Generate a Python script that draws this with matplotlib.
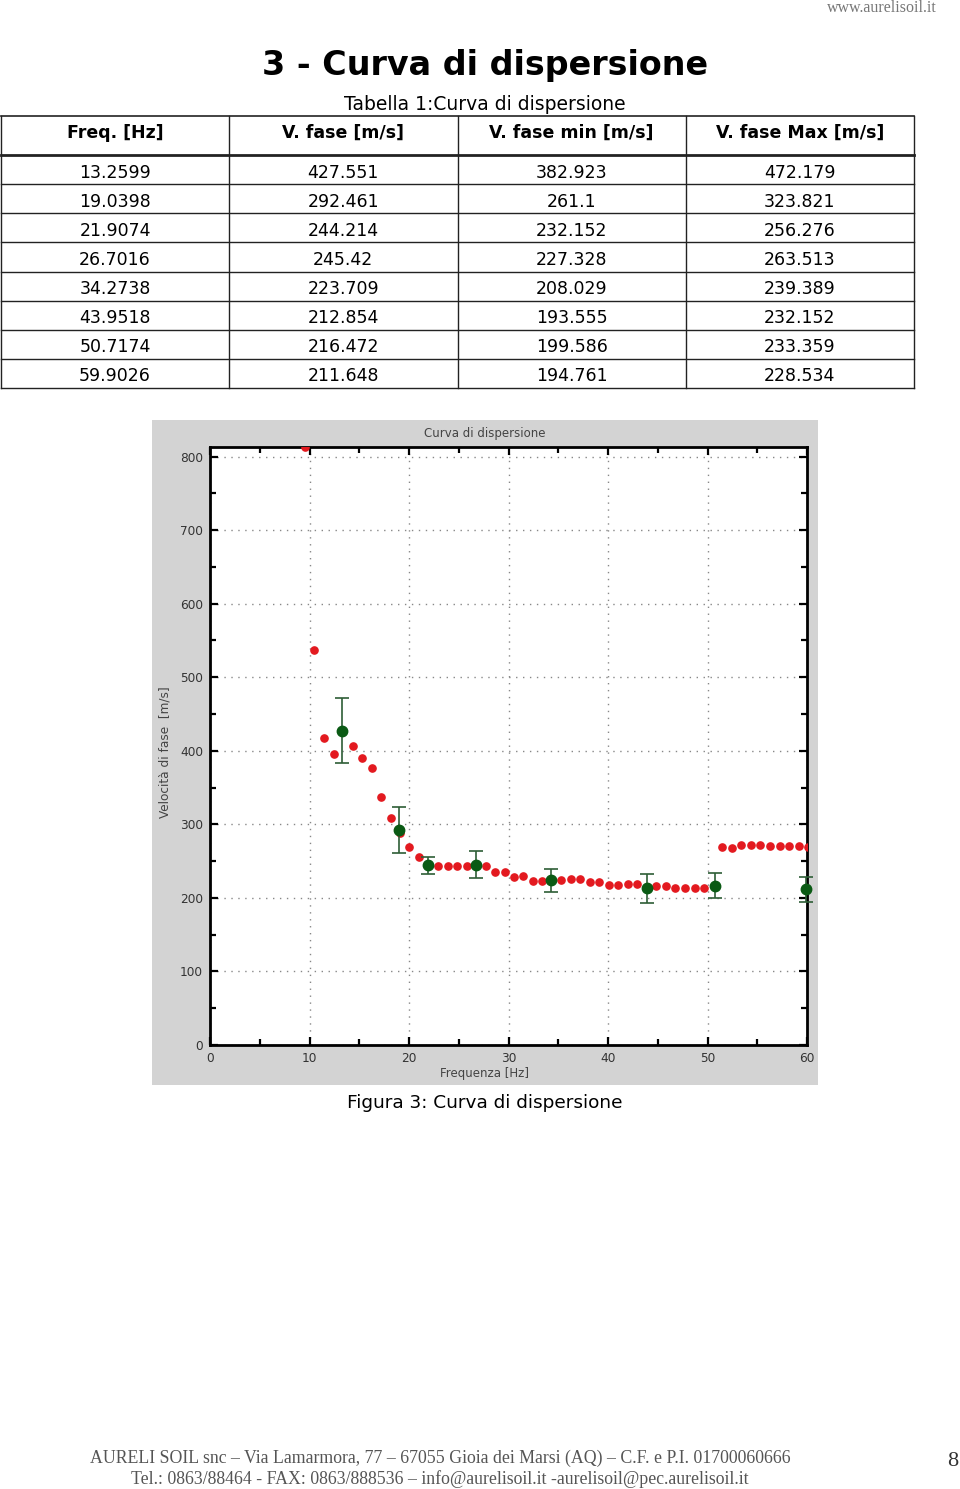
import numpy as np
import matplotlib
matplotlib.use('Agg')
import matplotlib.pyplot as plt
from matplotlib.patches import Rectangle
from matplotlib.ticker import MultipleLocator

# --- Data ---
freq = [13.2599, 19.0398, 21.9074, 26.7016, 34.2738, 43.9518, 50.7174, 59.9026]
v_fase = [427.551, 292.461, 244.214, 245.42, 223.709, 212.854, 216.472, 211.648]
v_min = [382.923, 261.1, 232.152, 227.328, 208.029, 193.555, 199.586, 194.761]
v_max = [472.179, 323.821, 256.276, 263.513, 239.389, 232.152, 233.359, 228.534]

freq_txt = ['13.2599', '19.0398', '21.9074', '26.7016', '34.2738', '43.9518', '50.7174', '59.9026']
v_fase_txt = ['427.551', '292.461', '244.214', '245.42', '223.709', '212.854', '216.472', '211.648']
v_min_txt = ['382.923', '261.1', '232.152', '227.328', '208.029', '193.555', '199.586', '194.761']
v_max_txt = ['472.179', '323.821', '256.276', '263.513', '239.389', '232.152', '233.359', '228.534']
headers = ['Freq. [Hz]', 'V. fase [m/s]', 'V. fase min [m/s]', 'V. fase Max [m/s]']

# picked curve (red dots)
curve_f = [9.55, 10.5, 11.46, 12.43, 14.34, 15.28, 16.25, 17.19, 18.16, 19.1,
           20.03, 21.02, 22.93, 23.9, 24.83, 25.8, 27.7, 28.64, 29.6, 30.55,
           31.5, 32.46, 33.4, 35.3, 36.3, 37.2, 38.2, 39.1, 40.1, 41.0,
           42.0, 42.9, 44.86, 45.8, 46.75, 47.7, 48.7, 49.6, 51.5, 52.46,
           53.4, 54.4, 55.3, 56.3, 57.3, 58.2, 59.2, 60.1]
curve_v = [813, 537, 417, 396, 406, 390, 377, 337, 309, 288,
           269, 255, 244, 244, 244, 244, 244, 235.5, 235.5, 228.7,
           229.6, 223, 223, 225, 225.5, 226, 221, 221.5, 217, 218,
           218.3, 219, 216, 216, 213, 213.3, 213.8, 214, 268.6, 268,
           272, 272, 271.7, 271, 270.8, 270.4, 270, 269]

W, H = 960, 1489
fig = plt.figure(figsize=(W / 100, H / 100), dpi=100)
fig.patch.set_facecolor('white')

def fx(px):
    return px / W

def fy(py):
    return 1 - py / H

page_font = 'DejaVu Sans'
serif = 'Liberation Serif'

# --- Page texts ---
fig.text(fx(937), fy(8), 'www.aurelisoil.it', ha='right', va='center',
         family=serif, fontsize=11.5, color='#777777')
fig.text(fx(485), fy(66), '3 - Curva di dispersione', ha='center', va='center',
         family=page_font, fontweight='bold', fontsize=24, color='black')
fig.text(fx(485), fy(104), 'Tabella 1:Curva di dispersione', ha='center', va='center',
         family=page_font, fontsize=13.5, color='black')

# --- Table ---
header_h = 39 / 29
n_rows = len(freq)
tax = fig.add_axes([fx(1), fy(388), fx(914) - fx(1), fy(116) - fy(388)])
tax.set_xlim(0, 4)
tax.set_ylim(header_h + n_rows, 0)
tax.axis('off')
for i, h in enumerate(headers):
    tax.text(i + 0.5, header_h * 0.44, h, ha='center', va='center',
             family=page_font, fontweight='bold', fontsize=12.5)
columns = [freq_txt, v_fase_txt, v_min_txt, v_max_txt]
for i, col in enumerate(columns):
    for r, val in enumerate(col):
        tax.text(i + 0.5, header_h + r + 0.6, val, ha='center', va='center',
                 family=page_font, fontsize=12.5)
tax.axhline(0, color='#222222', lw=1.2, clip_on=False)
tax.axhline(header_h, color='#222222', lw=2.0, clip_on=False)
for r in range(1, n_rows + 1):
    tax.axhline(header_h + r, color='#222222', lw=1.0, clip_on=False)
for c in range(5):
    tax.axvline(c, color='#222222', lw=1.0, clip_on=False)

# --- Chart image background ---
fig.patches.append(Rectangle((fx(152), fy(1085)), fx(818) - fx(152), fy(420) - fy(1085),
                             transform=fig.transFigure, facecolor='#d3d3d3',
                             edgecolor='none', zorder=-10))

ax = fig.add_axes([fx(210), fy(1045), fx(807) - fx(210), fy(446.7) - fy(1045)])
ax.set_facecolor('white')
ax.set_xlim(0, 60)
ax.set_ylim(0, 813.5)
ax.xaxis.set_major_locator(MultipleLocator(10))
ax.xaxis.set_minor_locator(MultipleLocator(5))
ax.yaxis.set_major_locator(MultipleLocator(100))
ax.yaxis.set_minor_locator(MultipleLocator(50))
ax.grid(True, which='major', color='#888888', linestyle=(0, (1, 4)), linewidth=1.0)
ax.tick_params(which='both', direction='in', top=True, right=True, width=1.6,
               colors='black', labelcolor='#333333', labelsize=8.7)
ax.tick_params(which='major', length=6, pad=5)
ax.tick_params(which='minor', length=4.5)
for s in ax.spines.values():
    s.set_linewidth(2.0)
    s.set_color('black')

ax.plot(curve_f, curve_v, 'o', color='#e3191f', markersize=5.2, zorder=3)
yerr = [np.array(v_fase) - np.array(v_min), np.array(v_max) - np.array(v_fase)]
ax.errorbar(freq, v_fase, yerr=yerr, fmt='o', color='#0a5a14', ecolor='#2e5e36',
            markersize=7.5, elinewidth=1.2, capsize=5, capthick=1.2, zorder=4,
            clip_on=False)

fig.text(fx(485), fy(433), 'Curva di dispersione', ha='center', va='center',
         fontsize=8.5, color='#444444')
ax.set_xlabel('Frequenza [Hz]', fontsize=8.5, color='#444444')
ax.xaxis.set_label_coords((485 - 210) / (807 - 210), -(1073 - 1045) / (1045 - 446.7))
ax.set_ylabel('Velocità di fase  [m/s]', fontsize=8.7, color='#444444')
ax.yaxis.set_label_coords(-(210 - 165) / (807 - 210), (1045 - 752) / (1045 - 446.7))
ax.xaxis.label.set_va('center')
ax.yaxis.label.set_va('center')

fig.text(fx(485), fy(1103), 'Figura 3: Curva di dispersione', ha='center', va='center',
         family=page_font, fontsize=13.3, color='black')

# --- Footer ---
fig.text(fx(440), fy(1458), 'AURELI SOIL snc – Via Lamarmora, 77 – 67055 Gioia dei Marsi (AQ) – C.F. e P.I. 01700060666',
         ha='center', va='center', family=serif, fontsize=12.8, color='#555555')
fig.text(fx(440), fy(1479), 'Tel.: 0863/88464 - FAX: 0863/888536 – info@aurelisoil.it -aurelisoil@pec.aurelisoil.it',
         ha='center', va='center', family=serif, fontsize=12.8, color='#555555')
fig.text(fx(953), fy(1462), '8', ha='center', va='center', family=serif,
         fontsize=16, color='#333333')

fig.savefig('out.png', dpi=100)
